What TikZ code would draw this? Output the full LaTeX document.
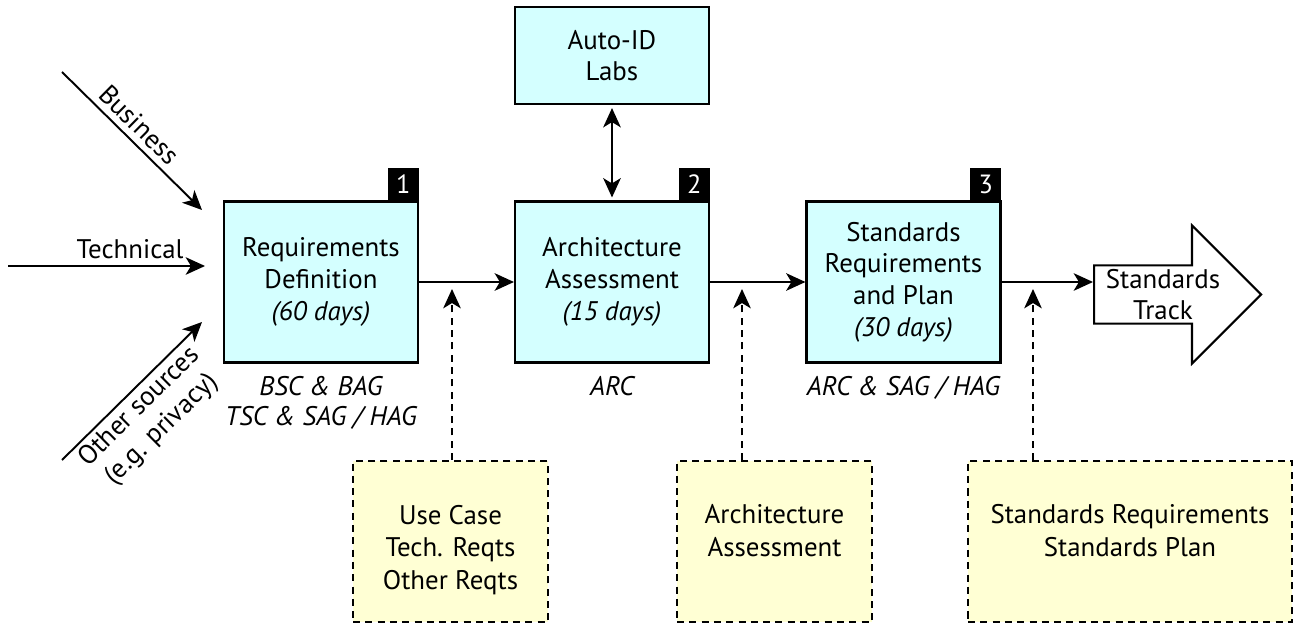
\documentclass[tikz,border=0pt]{standalone}
\usepackage{fontspec}
\setmainfont{PT Sans}
\usetikzlibrary{positioning,arrows.meta,shapes.arrows}
\definecolor{phasecyan}{RGB}{212,255,255}
\definecolor{docyellow}{RGB}{255,255,212}

\begin{document}
\begin{tikzpicture}[
    x=0.02cm, y=-0.02cm,
    >={Stealth[length=11pt,width=10pt,inset=3pt]},
    txt/.style={font=\fontsize{15.3}{18}\selectfont},
    phase/.style={txt, draw, line width=1.2pt, fill=phasecyan, minimum width=3.88cm, minimum height=3.22cm, align=center},
    doc/.style={txt, font=\fontsize{15.3}{18.6}\selectfont, draw, line width=1.1pt, dash pattern=on 4pt off 3pt, fill=docyellow,
      minimum height=3.22cm, inner ysep=1pt, align=center},
    doctwo/.style={doc, text height=1.70cm, text depth=1.10cm},
    docthree/.style={doc, text height=2.36cm, text depth=0.44cm},
    badge/.style={fill=black, text=white, minimum width=0.62cm, minimum height=0.64cm, inner sep=0pt, anchor=south east, font=\fontsize{15}{15}\selectfont},
    who/.style={font=\fontsize{15.3}{17}\selectfont\itshape, align=center, inner sep=0pt},
    flow/.style={->, line width=1.1pt},
    feed/.style={->, line width=1.1pt, dash pattern=on 4pt off 3pt, shorten >=0.14cm}
  ]
  \useasboundingbox (0,0) rectangle (1299,625);

  % phases
  \node[phase] (req) at (321,282) {Requirements\\Definition\\\textit{(60 days)}};
  \node[phase] (arch) at (612,282) {Architecture\\Assessment\\\textit{(15 days)}};
  \node[phase] (std) at (903.5,282) {Standards\\Requirements\\and Plan\\\textit{(30 days)}};
  \node[phase, minimum height=1.94cm] (labs) at (612,55.5) {Auto-ID\\Labs};

  \node[badge] (n1) at (req.north east) {1};
  \node[badge] (n2) at (arch.north east) {2};
  \node[badge] (n3) at (std.north east) {3};

  \node[who, below=0.25cm of req] (reqwho) {BSC \& BAG\\TSC \& SAG / HAG};
  \node[who, below=0.25cm of arch] (archwho) {ARC};
  \node[who, below=0.25cm of std] (stdwho) {ARC \& SAG / HAG};

  \node[txt, single arrow, draw, line width=1.2pt, fill=white, anchor=tail,
        minimum height=3.34cm, minimum width=2.76cm, single arrow head extend=0.73cm,
        inner xsep=2pt, inner ysep=0pt, align=center] (track) at (1093,294.5) {Standards\\Track};

  % deliverables
  \node[docthree, minimum width=3.9cm] (usecase) at (450.5,541.5) {Use Case\\Tech. Reqts\\Other Reqts};
  \node[doctwo, minimum width=3.9cm] (assess) at (774.5,541.5) {Architecture\\Assessment};
  \node[doctwo, minimum width=6.48cm] (plan) at (1130,541.5) {Standards Requirements\\Standards Plan};

  % inputs
  \coordinate (srcB) at (62,72);
  \coordinate (inB) at (202,210);
  \coordinate (srcT) at (8,266);
  \coordinate (inT) at (205,266);
  \coordinate (srcO) at (62,460);
  \coordinate (inO) at (202,322);

  \draw[flow] (srcB) -- node[txt, sloped, above, pos=0.47] (lblB) {Business} (inB);
  \draw[flow] (srcT) -- node[txt, above, pos=0.62] (lblT) {Technical} (inT);
  \draw[flow] (srcO) -- node[txt, sloped, below, pos=0.47, inner sep=2pt, align=center] (lblO) {Other sources\\(e.g. privacy)} (inO);

  % main flow
  \draw[flow] (req) -- (arch);
  \draw[flow] (arch) -- (std);
  \draw[flow] (std) -- (std -| track.west);
  \draw[<->, line width=1.1pt, shorten <=0.06cm, shorten >=0.06cm] (labs) -- (arch);

  % feeds
  \coordinate (tapA) at (452,282);
  \coordinate (tapB) at (742,282);
  \coordinate (tapC) at (1033,282);
  \draw[feed] (tapA |- usecase.north) -- (tapA);
  \draw[feed] (tapB |- assess.north) -- (tapB);
  \draw[feed] (tapC |- plan.north) -- (tapC);
\end{tikzpicture}
\end{document}
